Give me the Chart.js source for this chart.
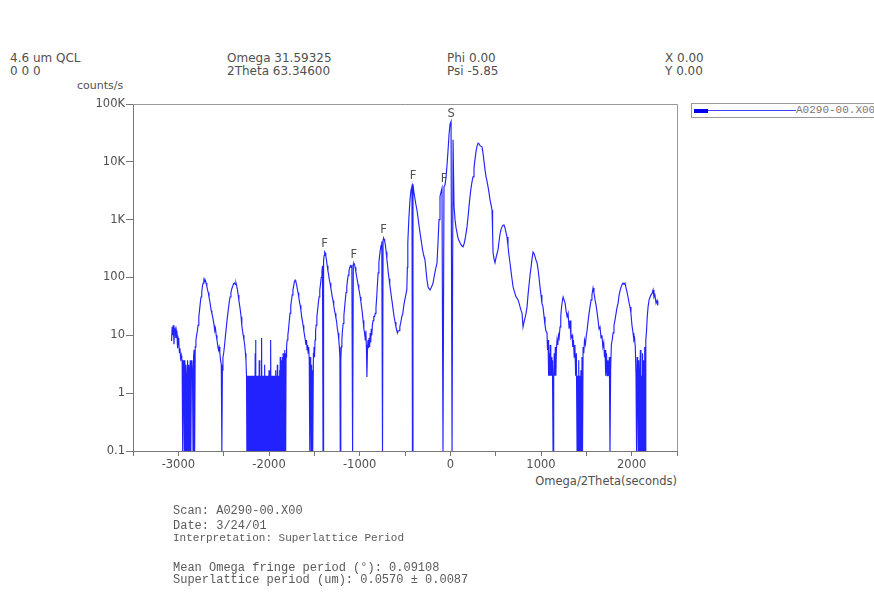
<!DOCTYPE html>
<html>
<head>
<meta charset="utf-8">
<script src="https://cdn.jsdelivr.net/npm/chart.js@4.4.0/dist/chart.umd.min.js"></script>
<style>
  body{margin:0;background:#fff;width:874px;height:596px;overflow:hidden;position:relative;font-family:"DejaVu Sans",sans-serif;color:#505050}
  .t{position:absolute;font-size:12px;line-height:14px;white-space:nowrap}
  .m{position:absolute;font-family:"Liberation Mono",monospace;font-size:12px;line-height:14px;color:#5a5a5a;white-space:nowrap}
  #wrap{position:absolute;left:0;top:0;width:874px;height:596px}
  #legend{position:absolute;left:691px;top:103px;width:200px;height:13px;border:1px solid #999;background:#fff}
  #legend .thick{position:absolute;left:2px;top:5px;width:14px;height:4px;background:#0000ee}
  #legend .thin{position:absolute;left:16px;top:6px;width:88px;height:1px;background:#4444ff}
  #legend .lbl{position:absolute;left:104px;top:0;font-family:"Liberation Mono",monospace;font-size:11px;line-height:13px;color:#777}
</style>
</head>
<body>
<div class="t" style="left:10px;top:51px">4.6 um QCL</div>
<div class="t" style="left:10px;top:64px">0 0 0</div>
<div class="t" style="left:227px;top:51px">Omega 31.59325</div>
<div class="t" style="left:227px;top:64px">2Theta 63.34600</div>
<div class="t" style="left:447px;top:51px">Phi 0.00</div>
<div class="t" style="left:447px;top:64px">Psi -5.85</div>
<div class="t" style="left:665px;top:51px">X 0.00</div>
<div class="t" style="left:665px;top:64px">Y 0.00</div>
<div class="t" style="left:77px;top:79px;font-size:11px">counts/s</div>
<div class="t" style="right:197px;top:474px;font-size:11.5px">Omega/2Theta(seconds)</div>

<div id="wrap"><canvas id="xrd" width="874" height="596"></canvas></div>

<div id="legend"><div class="thick"></div><div class="thin"></div><div class="lbl">A0290-00.X00</div></div>

<div class="m" style="left:173px;top:504px">Scan: A0290-00.X00</div>
<div class="m" style="left:173px;top:519px">Date: 3/24/01</div>
<div class="m" style="left:173px;top:531px;font-size:11px">Interpretation: Superlattice Period</div>
<div class="m" style="left:173px;top:561px">Mean Omega fringe period (°): 0.09108</div>
<div class="m" style="left:173px;top:573px">Superlattice period (um): 0.0570 ± 0.0087</div>

<script>
// scan position (arc seconds)
const omega = [
  -3075,-3068,-3062,-3055,-3048,-3042,-3035,-3028,-3022,-3015,
  -3008,-3002,-2995,-2988,-2982,-2975,-2968,-2962,-2958,-2952,
  -2946,-2940,-2934,-2928,-2922,-2916,-2910,-2904,-2898,-2892,
  -2886,-2880,-2874,-2868,-2862,-2856,-2850,-2844,-2838,-2832,
  -2826,-2820,-2814,-2806,-2798,-2790,-2782,-2774,-2766,-2758,
  -2750,-2742,-2734,-2726,-2718,-2712,-2706,-2700,-2694,-2686,
  -2678,-2670,-2662,-2654,-2646,-2638,-2630,-2622,-2614,-2606,
  -2598,-2590,-2582,-2574,-2566,-2558,-2550,-2542,-2534,-2526,
  -2520,-2514,-2508,-2500,-2490,-2480,-2470,-2460,-2450,-2440,
  -2430,-2420,-2410,-2400,-2390,-2380,-2372,-2364,-2356,-2348,
  -2340,-2332,-2324,-2316,-2308,-2300,-2292,-2284,-2276,-2268,
  -2260,-2254,-2248,
  -2244,-2240,-2236,-2232,-2228,-2224,-2220,-2216,-2212,-2208,
  -2204,-2200,-2196,-2192,-2188,-2184,-2180,-2176,-2172,-2168,
  -2164,-2160,-2156,-2152,-2148,-2144,-2140,-2136,-2132,-2128,
  -2124,-2120,-2116,-2112,-2108,-2104,-2100,-2096,-2092,-2088,
  -2084,-2080,-2076,-2072,-2068,-2064,-2060,-2056,-2052,-2048,
  -2044,-2040,-2036,-2032,-2028,-2024,-2020,-2016,-2012,-2008,
  -2004,-2000,-1996,-1992,-1988,-1984,-1980,-1976,-1972,-1968,
  -1964,-1960,-1956,-1952,-1948,-1944,-1940,-1936,-1932,-1928,
  -1924,-1920,-1916,-1912,-1908,-1904,-1900,-1896,-1892,-1888,
  -1884,-1880,-1876,-1872,-1868,-1864,-1860,-1856,-1852,-1848,
  -1844,-1840,-1836,-1832,-1828,-1824,-1820,-1816,-1812,-1806,
  -1800,-1792,-1784,-1776,-1768,-1760,-1752,-1744,-1736,-1728,
  -1720,-1712,-1704,-1696,-1688,-1680,-1672,-1664,-1656,-1648,
  -1640,-1632,-1624,-1616,-1608,-1600,-1592,-1586,-1580,-1574,
  -1568,-1562,-1556,-1550,-1545,-1540,-1535,-1530,-1525,-1520,
  -1515,-1510,-1504,-1498,-1492,-1486,-1480,-1472,-1464,-1456,
  -1448,-1440,-1432,-1424,-1416,-1410,-1404,-1398,-1392,-1386,
  -1380,-1374,-1366,-1358,-1350,-1342,-1334,-1326,-1318,-1310,
  -1302,-1294,-1286,-1278,-1270,-1262,-1254,-1246,-1238,-1230,
  -1224,-1218,-1214,-1208,-1202,-1196,-1190,-1182,-1174,-1166,
  -1158,-1150,-1142,-1134,-1126,-1118,-1110,-1102,-1094,-1086,
  -1078,-1070,-1064,-1058,-1050,-1042,-1034,-1026,-1018,-1010,
  -1002,-994,-986,-978,-970,-962,-954,-946,-938,-932,
  -926,-920,-914,-908,-902,-896,-890,-884,-878,-872,
  -866,-860,-852,-844,-836,-828,-820,-812,-804,-796,
  -788,-780,-772,-764,-756,-748,-742,-736,-730,-724,
  -716,-708,-700,-692,-684,-676,-668,-660,-650,-640,
  -630,-620,-610,-600,-590,-582,-576,-566,-557,-546,
  -535,-524,-513,-502,-491,-480,-474,-469,-458,-445,
  -434,-423,-418,-412,-402,-390,-379,-368,-357,-346,
  -334,-320,-306,-293,-279,-268,-257,-246,-235,-224,
  -213,-202,-191,-180,-169,-158,-147,-136,-125,-114,
  -103,-92,-81,-70,-58,-47,-36,-25,-14,-3,
  8,19,30,41,52,63,74,85,96,107,
  118,129,140,151,162,173,184,195,206,217,
  228,239,250,261,272,283,294,306,317,328,
  339,350,361,372,383,394,405,416,427,438,
  449,460,466,471,482,493,504,515,526,537,
  548,559,570,581,592,603,614,625,636,647,
  658,669,680,692,703,714,725,736,747,758,
  769,780,791,802,813,824,835,846,857,868,
  879,890,901,912,923,934,945,956,967,978,
  989,1000,1010,1022,1034,1044,1054,1066,1072,1078,
  1084,1090,1096,1102,1108,1114,1120,1126,1133,1140,
  1146,1152,1158,1164,1170,1177,1185,1193,1200,1210,
  1218,1226,1236,1244,1254,1266,1276,1288,1299,1310,
  1320,1330,1343,1350,1358,1366,1374,1382,1390,1398,
  1404,1410,1416,1422,1428,1434,1440,1446,1452,1458,
  1464,1472,1480,1490,1500,1508,1520,1530,1541,1552,
  1562,1574,1584,1596,1608,1620,1630,1640,1651,1662,
  1672,1682,1692,1700,1706,1714,1722,1730,1738,1746,
  1754,1761,1768,1776,1785,1795,1805,1815,1828,1840,
  1850,1862,1874,1886,1896,1905,1916,1927,1938,1950,
  1960,1972,1982,1992,2003,2015,2024,2032,2040,2048,
  2054,2060,2066,2072,2078,2084,2090,2096,2102,2108,
  2114,2120,2126,2132,2138,2144,2150,2156,2164,2172,
  2181,2192,2203,2214,2225,2236,2246,2256,2269,2280,
  2288
];
// intensity (counts/s), 0.1 = no counts (drawn at the axis floor)
const counts = [
  8,14,10,15,7,12,13,9,12,10,
  6,9,8,5,6,4,4.5,3.7,3.7,0.1,
  3.7,2,0.1,3.7,0.1,3.1,2,0.1,3.7,0.1,
  3.1,0.1,2.5,3.7,0.1,2,3.7,2.5,0.1,4.2,
  5.6,0.1,6.3,8.3,10,12,15,21,27,36,
  46,55,71,80,90,85,92,88,80,71,
  61,55,46,40,33,27,24,21,18,15,
  12,13,10,8.3,6.8,5.6,6.3,4.9,3.7,3.1,
  0.1,2.5,4.2,4.9,6.8,10,14,20,27,36,
  46,55,64,71,78,80,76,80,71,61,
  50,40,33,27,21,15,12,10,8.3,6.8,
  4.9,3.7,2,
  0.1,2,0.1,2,0.1,2,0.1,2,0.1,2,
  0.1,2,0.1,2,0.1,2,0.1,2,0.1,2,
  0.1,2,0.1,4.9,8.3,0.1,2,0.1,2,0.1,
  2,0.1,2,0.1,3.7,0.1,2,0.1,2,0.1,
  6.8,9,0.1,2,0.1,2,0.1,2,0.1,3.1,
  0.1,2,0.1,2,0.1,2,0.1,2,0.1,2,
  0.1,2.5,0.1,2,0.1,6.3,8.3,0.1,2,0.1,
  2,0.1,2,0.1,2,0.1,2,0.1,2,0.1,
  2.5,0.1,2,0.1,3.1,0.1,2,0.1,2,0.1,
  2.5,0.1,4.2,0.1,3.1,0.1,3.7,0.1,4.2,0.1,
  4.9,0.1,4.2,0.1,5.6,0.1,4.9,0.1,4.2,6.3,
  8.3,10,13,18,24,33,40,50,61,71,
  85,90,84,76,64,55,46,38,33,27,
  21,18,15,12,10,8.3,6.8,8.3,5.6,6.8,
  4.9,6.3,3.7,0.1,4.2,2,0.1,3.1,0.1,2.5,
  0.1,4.9,6.3,4.2,8.3,12,15,21,27,36,
  46,61,76,100,130,160,0.1,200,240,276,
  265,240,200,160,130,110,90,80,66,55,
  46,40,33,27,24,20,17,13,11,8.3,
  6.3,4.2,0.1,3.7,6.3,8.3,12,16,22,30,
  42,55,70,90,110,130,148,160,150,165,
  0.1,170,178,170,150,125,105,90,76,64,
  55,46,38,30,24,18,13,11,8.3,12,
  6.8,1.9,5.6,8.3,6,9,6.3,11,7.5,13,
  10,15,18,21,21,24,30,46,76,120,
  180,240,300,360,420,0.1,450,480,460,420,
  360,280,210,160,120,95,76,61,46,36,
  27,21,17,14,12,11,12,12,14,17,
  21,24,33,41,50,61,150,400,1000,2200,
  3200,3800,0.1,4100,3000,2300,1800,1470,1100,800,
  590,420,300,240,200,130,90,69,64,61,
  66,72,80,100,125,150,178,400,1000,2500,
  3000,3500,0.1,3700,4000,5500,9000,16000,30000,45000,
  50000,0.1,24000,1650,1000,720,590,480,430,400,
  370,350,340,380,450,580,750,1100,1700,2500,
  3500,4500,5500,7800,11000,15000,18500,21000,20500,19000,
  18500,18000,14000,10000,7200,5500,4600,3700,2900,2200,
  1800,1470,600,270,210,180,220,260,300,420,
  560,680,750,800,810,720,600,500,350,240,
  180,130,95,69,60,52,46,44,41,36,
  31,27,24,14,17,20,24,31,50,75,
  110,150,210,276,260,230,200,180,140,100,
  69,50,36,31,21,15,12,11,5.6,8.3,
  2,4.9,2,6.8,2,4.2,2,3.7,0.1,2,
  4.9,2,6.3,2,5.6,8.3,6.8,10,9,14,
  21,30,40,46,41,36,27,21,24,13,
  18,9,10,6.3,8.3,4.2,6.8,2,4.9,0.1,
  2,0.1,3.7,0.1,2,0.1,2.5,0.1,4.2,0.1,
  6.3,4.9,8.3,7,10,12,18,24,31,41,
  50,66,55,41,33,24,18,13,14,9,
  10,6.3,7.5,4.2,5.6,2,4.9,2,3.7,2,
  4.2,0.1,2.5,6.8,8.3,11,15,18,24,31,
  36,50,61,71,76,80,76,80,66,55,
  46,36,31,24,15,11,8.3,9,6.3,2,
  0.1,4.2,2,0.1,3.7,0.1,2,5.6,0.1,2,
  0.1,4.9,0.1,3.7,0.1,6.3,0.1,8.3,12,21,
  31,41,46,50,53,61,46,50,36,40,
  33
];

// peak markers
const peakX = [-1386, -1064, -736, -412, -70, 8];
const peakY = [276, 178, 480, 4100, 3700, 50000];
const peakText = ['F', 'F', 'F', 'F', 'F', 'S'];

// axis ticks
const xTickValues = [-3500,-3000,-2500,-2000,-1500,-1000,-500,0,500,1000,1500,2000,2500];
const xTickLabels = ['','-3000','','-2000','','-1000','','0','','1000','','2000',''];
const yTickValues = [0.1, 1, 10, 100, 1000, 10000, 100000];
const yTickLabels = ['0.1','1','10','100','1K','10K','100K'];

const frame = {
  id: 'frame',
  afterDraw(chart) {
    const { ctx, chartArea: a } = chart;
    ctx.save();
    ctx.strokeStyle = '#999';
    ctx.lineWidth = 1;
    ctx.beginPath();
    ctx.moveTo(a.left, a.top + 0.5);
    ctx.lineTo(a.right + 0.5, a.top + 0.5);
    ctx.lineTo(a.right + 0.5, a.bottom);
    ctx.stroke();
    ctx.restore();
  }
};

const peakLabels = {
  id: 'peakLabels',
  afterDatasetsDraw(chart) {
    const { ctx, scales } = chart;
    ctx.save();
    ctx.fillStyle = '#505050';
    ctx.font = '11.5px "DejaVu Sans"';
    ctx.textAlign = 'center';
    ctx.textBaseline = 'bottom';
    peakText.forEach((t, i) => {
      const x = scales.x.getPixelForValue(peakX[i]);
      const y = scales.y.getPixelForValue(peakY[i]);
      ctx.fillText(t, x, y - 2);
    });
    ctx.restore();
  }
};

const tickFont = { family: 'DejaVu Sans', size: 11.5 };

new Chart(document.getElementById('xrd').getContext('2d'), {
  type: 'line',
  data: {
    datasets: [{
      data: omega.map((x, i) => ({ x, y: counts[i] })),
      borderColor: 'rgb(34,34,255)',
      borderWidth: 1.15,
      pointRadius: 0,
      tension: 0,
      fill: false
    }]
  },
  options: {
    responsive: false,
    animation: false,
    devicePixelRatio: 1,
    layout: { padding: { left: 0, top: 104, right: 197, bottom: 105 } },
    plugins: { legend: { display: false }, tooltip: { enabled: false } },
    scales: {
      x: {
        type: 'linear', min: -3500, max: 2500,
        afterBuildTicks: s => { s.ticks = xTickValues.map(v => ({ value: v })); },
        afterFit: s => { s.height = 40; },
        ticks: { autoSkip: false, maxRotation: 0, padding: 2, color: '#505050', font: tickFont,
          callback: (v, i) => xTickLabels[i] },
        grid: { drawOnChartArea: false, drawTicks: true, tickLength: 5, color: '#777' },
        border: { display: true, color: '#777', width: 1 }
      },
      y: {
        type: 'logarithmic', min: 0.1, max: 100000,
        afterBuildTicks: s => { s.ticks = yTickValues.map(v => ({ value: v })); },
        afterFit: s => { s.width = 133; },
        ticks: { autoSkip: false, padding: 1, color: '#505050', font: tickFont,
          callback: (v, i) => yTickLabels[i] },
        grid: { drawOnChartArea: false, drawTicks: true, tickLength: 7, color: '#777' },
        border: { display: true, color: '#777', width: 1 }
      }
    }
  },
  plugins: [frame, peakLabels]
});
</script>
</body>
</html>
